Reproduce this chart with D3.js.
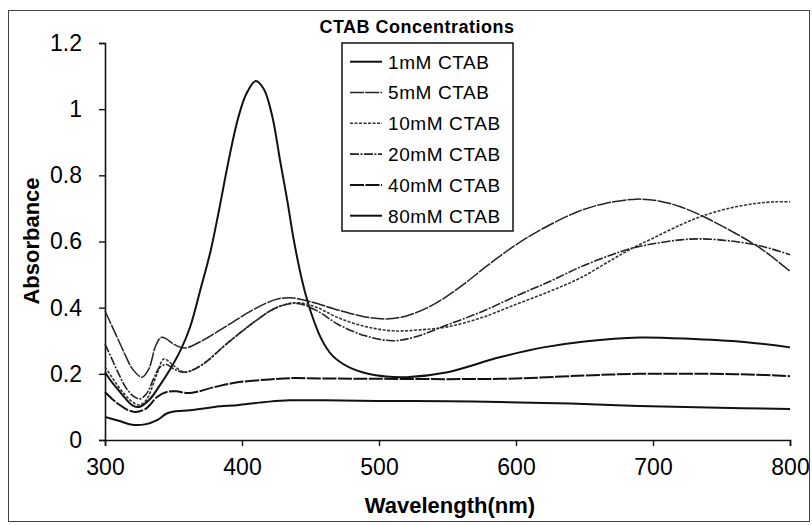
<!DOCTYPE html>
<html><head><meta charset="utf-8">
<script src="https://cdn.jsdelivr.net/npm/d3@7"></script>
<style>
html,body{margin:0;padding:0;background:#fff;}
svg{display:block;font-family:"Liberation Sans",Arial,sans-serif;}
</style></head>
<body><svg id="c" width="812" height="525"></svg>
<script>
// ---- data (wavelength nm, absorbance) ----
const seriesNames = ["1mM CTAB","5mM CTAB","10mM CTAB","20mM CTAB","40mM CTAB","80mM CTAB"];
const s1mM = [[300,0.205],[305,0.175],[310,0.15],[315,0.125],[320,0.105],[325,0.1],[332,0.12],[340,0.165],[347,0.21],[355,0.27],[362,0.34],[370,0.46],[377,0.57],[383,0.69],[390,0.84],[397,0.97],[403,1.045],[410,1.085],[416,1.06],[422,0.98],[428,0.84],[433,0.725],[438,0.6],[444,0.48],[450,0.39],[458,0.305],[466,0.255],[478,0.22],[492,0.2],[505,0.192],[520,0.19],[550,0.205],[588,0.25],[620,0.28],[650,0.298],[690,0.31],[730,0.305],[770,0.295],[800,0.28]];
const s5mM = [[300,0.39],[305,0.345],[310,0.3],[315,0.255],[320,0.215],[327,0.19],[332,0.215],[337,0.285],[341,0.31],[345,0.305],[350,0.29],[358,0.278],[370,0.298],[390,0.348],[410,0.398],[425,0.425],[435,0.43],[450,0.418],[470,0.393],[490,0.372],[505,0.366],[520,0.375],[540,0.41],[560,0.465],[580,0.53],[600,0.59],[620,0.64],[645,0.69],[665,0.715],[688,0.728],[705,0.722],[720,0.705],[736,0.677],[760,0.625],[780,0.575],[800,0.51]];
const s10mM = [[300,0.22],[305,0.19],[310,0.16],[315,0.135],[320,0.115],[325,0.106],[330,0.12],[338,0.2],[343,0.245],[350,0.225],[358,0.205],[370,0.225],[390,0.295],[410,0.36],[425,0.4],[440,0.415],[455,0.4],[470,0.37],[490,0.343],[510,0.33],[530,0.333],[550,0.342],[575,0.37],[600,0.41],[625,0.45],[647,0.49],[670,0.545],[685,0.58],[700,0.61],[720,0.65],[736,0.677],[755,0.7],[775,0.715],[790,0.72],[800,0.72]];
const s20mM = [[300,0.29],[305,0.245],[310,0.2],[315,0.16],[320,0.135],[325,0.124],[330,0.138],[336,0.19],[340,0.22],[345,0.228],[350,0.215],[358,0.205],[370,0.225],[390,0.295],[410,0.36],[425,0.4],[440,0.413],[455,0.39],[470,0.35],[490,0.315],[510,0.3],[525,0.31],[550,0.348],[575,0.388],[600,0.435],[625,0.48],[647,0.523],[670,0.56],[685,0.58],[700,0.593],[720,0.605],[735,0.608],[760,0.6],[780,0.585],[800,0.56]];
const s40mM = [[300,0.145],[305,0.125],[310,0.108],[316,0.092],[322,0.085],[330,0.095],[338,0.13],[345,0.145],[352,0.147],[362,0.142],[380,0.16],[398,0.175],[420,0.183],[435,0.187],[460,0.186],[500,0.185],[550,0.184],[600,0.186],[650,0.195],[690,0.2],[740,0.2],[770,0.198],[800,0.193]];
const s80mM = [[300,0.07],[310,0.058],[320,0.046],[330,0.048],[338,0.06],[345,0.08],[352,0.087],[362,0.09],[380,0.1],[398,0.106],[420,0.116],[435,0.12],[460,0.12],[500,0.118],[550,0.117],[588,0.115],[640,0.11],[690,0.103],[740,0.098],[800,0.094]];
const seriesData = [s1mM,s5mM,s10mM,s20mM,s40mM,s80mM];
const xTicks = [300,400,500,600,700,800];
const yTicks = [0,0.2,0.4,0.6,0.8,1,1.2];

// ---- styles ----
const styles = [
  {w:2.0, dash:null, c:"#111"},
  {w:1.5, dash:"14,1.2", c:"#222"},
  {w:1.6, dash:"3,1.5", c:"#333"},
  {w:1.6, dash:"9,1.5,2,1.5", c:"#222"},
  {w:2.0, dash:"14,1.5", c:"#111"},
  {w:2.0, dash:null, c:"#111"}
];

const svg = d3.select("#c");
// outer frame
svg.append("rect").attr("x",8.5).attr("y",10.5).attr("width",801).attr("height",511)
  .attr("fill","none").attr("stroke","#444").attr("stroke-width",1);

const x = d3.scaleLinear().domain([300,800]).range([105,790]);
const y = d3.scaleLinear().domain([0,1.2]).range([440,43]);

const fmt = d => (d===0||d===1) ? String(d) : d3.format(".1f")(d);
const yAxis = svg.append("g").attr("transform","translate(105,0)")
  .call(d3.axisLeft(y).tickValues(yTicks).tickFormat(fmt).tickSize(6).tickPadding(17));
const xAxis = svg.append("g").attr("transform","translate(0,440)")
  .call(d3.axisBottom(x).tickValues(xTicks).tickFormat(d3.format("d")).tickSize(6).tickPadding(13));
[yAxis,xAxis].forEach(g=>{
  g.select(".domain").attr("stroke","#111").attr("stroke-width",1.6);
  g.selectAll(".tick line").attr("stroke","#111").attr("stroke-width",1.4);
  g.selectAll(".tick text").attr("fill","#000").style("font-size","23px")
   .style("font-family","'Liberation Sans',Arial,sans-serif");
});

// axis titles
svg.append("text").attr("x",450).attr("y",513).attr("text-anchor","middle")
  .style("font-size","22px").style("font-weight","bold").text("Wavelength(nm)");
svg.append("text").attr("transform","translate(39,241) rotate(-90)").attr("text-anchor","middle")
  .style("font-size","22px").style("font-weight","bold").text("Absorbance");

// lines
const line = d3.line().x(d=>x(d[0])).y(d=>y(d[1])).curve(d3.curveCatmullRom.alpha(0.5));
seriesData.forEach((s,i)=>{
  svg.append("path").datum(s).attr("d",line).attr("fill","none")
    .attr("stroke",styles[i].c).attr("stroke-width",styles[i].w)
    .attr("stroke-dasharray",styles[i].dash).attr("stroke-linejoin","round");
});

// legend
svg.append("text").attr("x",417).attr("y",33).attr("text-anchor","middle")
  .style("font-size","18px").style("font-weight","bold").style("letter-spacing","0.5px")
  .text("CTAB Concentrations");
const lg = svg.append("g");
lg.append("rect").attr("x",342).attr("y",43).attr("width",171).attr("height",188)
  .attr("fill","#fff").attr("stroke","#111").attr("stroke-width",1.5);
seriesNames.forEach((n,i)=>{
  const cy = 61.7 + i*30.8;
  lg.append("line").attr("x1",350).attr("x2",382).attr("y1",cy).attr("y2",cy)
    .attr("stroke",styles[i].c).attr("stroke-width",styles[i].w)
    .attr("stroke-dasharray",styles[i].dash);
  lg.append("text").attr("x",388).attr("y",cy+6.8).style("font-size","19px")
    .style("letter-spacing","0.6px").text(n);
});
</script></body></html>
